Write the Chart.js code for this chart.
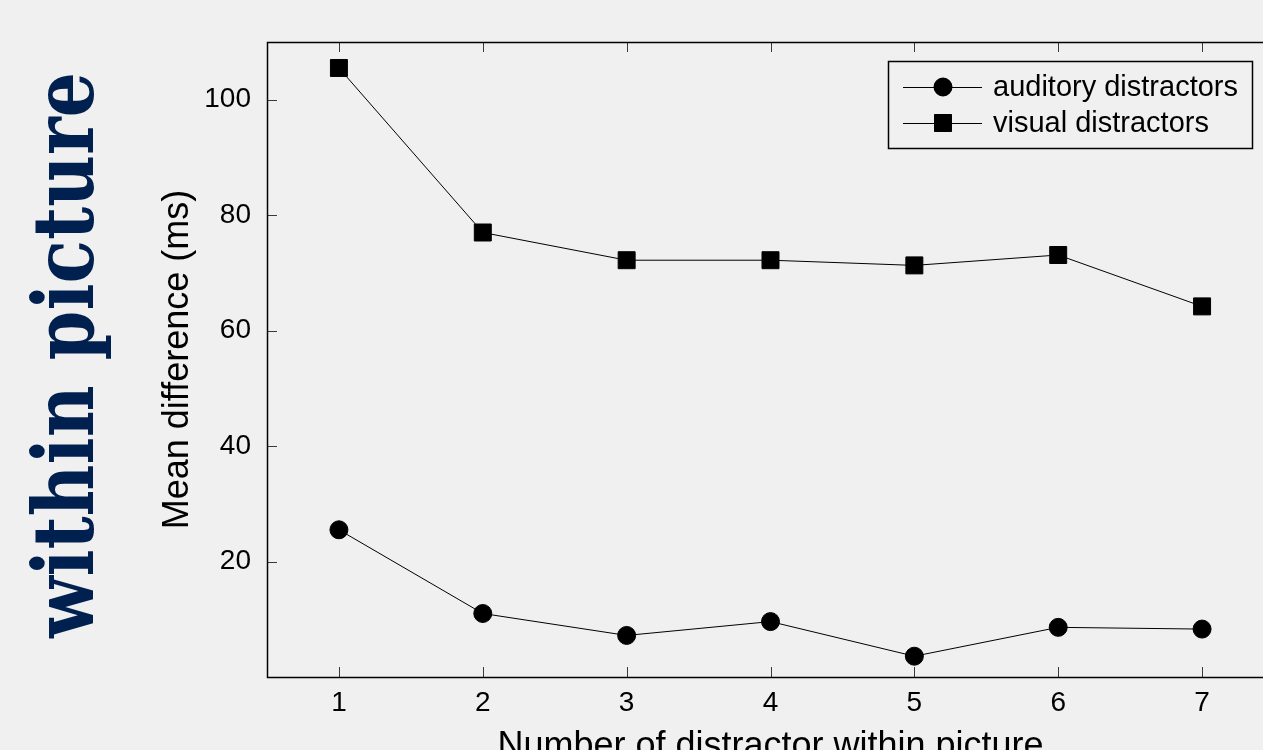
<!DOCTYPE html>
<html><head><meta charset="utf-8">
<script src="https://cdn.jsdelivr.net/npm/chart.js@4.4.1/dist/chart.umd.min.js"></script>
<style>
html,body{margin:0;padding:0;background:#f0f0f0;overflow:hidden;width:1263px;height:750px}
canvas{display:block}
</style></head>
<body>
<canvas id="c" width="1290" height="790" style="width:1290px;height:790px"></canvas>
<script>
const distractorCounts = [1, 2, 3, 4, 5, 6, 7];
const auditoryValues = [25.5, 11.0, 7.2, 9.6, 3.6, 8.6, 8.3];
const visualValues = [105.5, 77.0, 72.2, 72.2, 71.3, 73.1, 64.2];
const yTickValues = [20, 40, 60, 80, 100];
const seriesNames = ['auditory distractors', 'visual distractors'];
const sideTitle = 'within picture';
const xTitle = 'Number of distractor within picture';
const yTitle = 'Mean difference (ms)';

const FONT = "'Liberation Sans', Arial, sans-serif";

function toPoints(vals) { return distractorCounts.map((x, i) => ({x: x, y: vals[i]})); }

const frameTicks = {
  id: 'frameTicks',
  afterDatasetsDraw(chart) {
    const {ctx, chartArea: a, scales: {x, y}} = chart;
    ctx.save();
    ctx.strokeStyle = '#3a3a3a';
    ctx.lineWidth = 1;
    ctx.beginPath();
    distractorCounts.forEach(v => {
      const px = Math.round(x.getPixelForValue(v)) + 0.5;
      ctx.moveTo(px, a.bottom); ctx.lineTo(px, a.bottom - 10);
      ctx.moveTo(px, a.top); ctx.lineTo(px, a.top + 10);
    });
    yTickValues.forEach(v => {
      const py = Math.round(y.getPixelForValue(v)) + 0.5;
      ctx.moveTo(a.left, py); ctx.lineTo(a.left + 10, py);
      ctx.moveTo(a.right, py); ctx.lineTo(a.right - 10, py);
    });
    ctx.stroke();
    ctx.strokeStyle = '#000';
    ctx.lineWidth = 1.5;
    ctx.strokeRect(Math.round(a.left) + 0.5, Math.round(a.top) + 0.5, Math.round(a.right - a.left), Math.round(a.bottom - a.top));
    ctx.restore();
  }
};

const boxLegend = {
  id: 'boxLegend',
  afterDraw(chart) {
    const {ctx, chartArea: a} = chart;
    const bx = a.right - 386, by = a.top + 19, bw = 364, bh = 87;
    ctx.save();
    ctx.fillStyle = '#f0f0f0';
    ctx.fillRect(bx, by, bw, bh);
    ctx.strokeStyle = '#000';
    ctx.lineWidth = 1.5;
    ctx.strokeRect(bx + 0.5, by + 0.5, bw, bh);
    chart.data.datasets.forEach((ds, i) => {
      const cy = by + 26 + i * 36;
      const x0 = bx + 15, x1 = bx + 94, cx = bx + 55;
      ctx.strokeStyle = '#000'; ctx.lineWidth = 1;
      ctx.beginPath(); ctx.moveTo(x0, cy + 0.5); ctx.lineTo(x1, cy + 0.5); ctx.stroke();
      ctx.fillStyle = '#000';
      Chart.helpers.drawPoint(ctx, {pointStyle: ds.pointStyle, radius: ds.pointRadius, borderWidth: 1}, cx, cy);
      ctx.fill();
      ctx.font = '29px ' + FONT;
      ctx.textBaseline = 'middle';
      ctx.textAlign = 'left';
      ctx.fillText(ds.label, bx + 105, cy + 1);
    });
    ctx.restore();
  }
};

const sideText = {
  id: 'sideText',
  afterDraw(chart) {
    const ctx = chart.ctx;
    ctx.save();
    ctx.font = "bold 84px 'DejaVu Serif', serif";
    ctx.fillStyle = '#00204f';
    ctx.textBaseline = 'alphabetic';
    ctx.textAlign = 'left';
    const w = ctx.measureText(sideTitle).width;
    ctx.translate(93, 638);
    ctx.rotate(-Math.PI / 2);
    ctx.scale(566 / w, 1);
    ctx.fillText(sideTitle, 0, 0);
    ctx.restore();
  }
};

new Chart(document.getElementById('c'), {
  type: 'line',
  data: {
    datasets: [
      {label: seriesNames[0], data: toPoints(auditoryValues), borderColor: '#000', backgroundColor: '#000',
       borderWidth: 1, pointStyle: 'circle', pointRadius: 9, pointHoverRadius: 9, pointBorderWidth: 1, tension: 0},
      {label: seriesNames[1], data: toPoints(visualValues), borderColor: '#000', backgroundColor: '#000',
       borderWidth: 1, pointStyle: 'rect', pointRadius: 12, pointHoverRadius: 12, pointBorderWidth: 1, tension: 0}
    ]
  },
  options: {
    responsive: false,
    animation: false,
    devicePixelRatio: 1,
    layout: {padding: {left: 152, top: 42, right: 16, bottom: 0}},
    plugins: {legend: {display: false}, tooltip: {enabled: false}},
    events: [],
    scales: {
      x: {
        type: 'linear', min: 0.5, max: 7.5,
        afterBuildTicks: s => { s.ticks = distractorCounts.map(v => ({value: v})); },
        afterFit: s => { s.height = 113; },
        grid: {display: false}, border: {display: false},
        ticks: {color: '#000', font: {family: FONT, size: 28}, padding: 1, maxRotation: 0, autoSkip: false},
        title: {display: true, text: xTitle, color: '#000', font: {family: FONT, size: 36}, padding: {top: 0, bottom: 21}}
      },
      y: {
        min: 0, max: 110,
        afterBuildTicks: s => { s.ticks = yTickValues.map(v => ({value: v})); },
        afterFit: s => { s.width = 115; },
        grid: {display: false}, border: {display: false},
        ticks: {color: '#000', font: {family: FONT, size: 28}, padding: 8},
        title: {display: true, text: yTitle, color: '#000', font: {family: FONT, size: 36}, padding: {top: 4, bottom: 0}}
      }
    }
  },
  plugins: [frameTicks, boxLegend, sideText]
});
</script>
</body></html>
